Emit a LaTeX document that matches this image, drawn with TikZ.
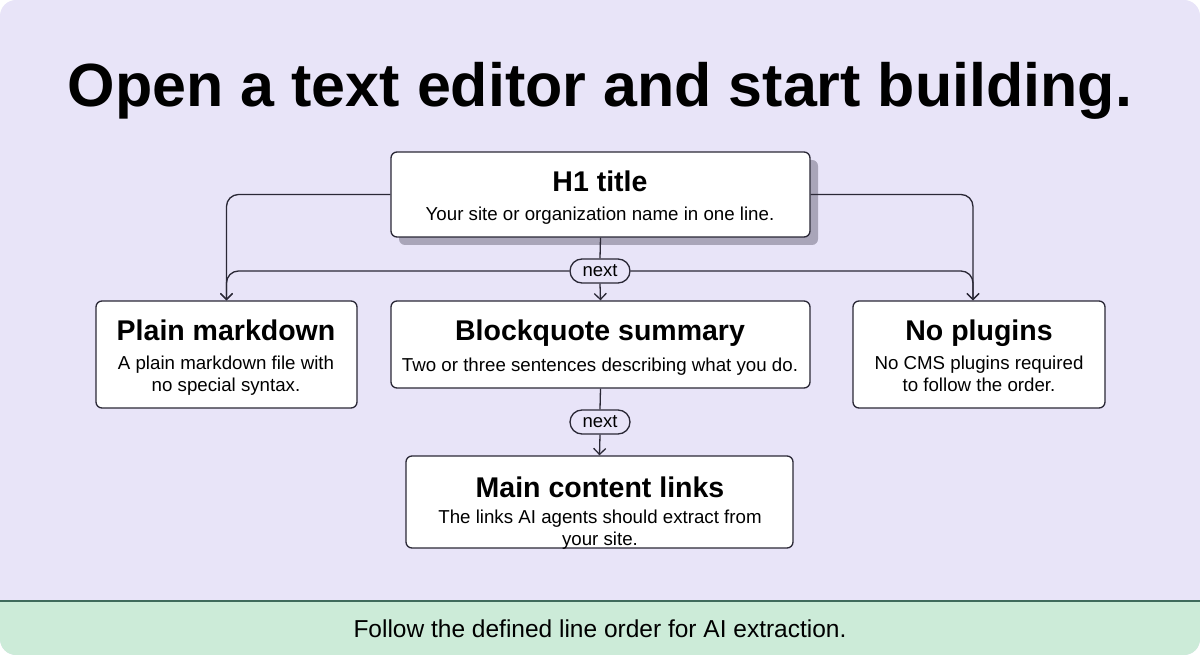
\documentclass[tikz,border=0pt]{standalone}
\usepackage{fontspec}
\setmainfont{Liberation Sans}
\usetikzlibrary{arrows.meta,shadows,positioning}

\definecolor{bgc}{HTML}{E8E4F8}
\definecolor{footc}{HTML}{CCEBD8}
\definecolor{footl}{HTML}{3F6A5C}
\definecolor{linec}{HTML}{2A2836}
\definecolor{shadc}{HTML}{A9A5B9}

\tikzset{
  box/.style={draw=linec, fill=white, rounded corners=6, line width=1.3,
    inner sep=0, minimum width=#1},
  pill/.style={draw=linec, fill=bgc, rounded corners=12, line width=1.3,
    minimum width=60, minimum height=24, inner sep=0,
    font=\fontsize{18.5}{18.5}\selectfont},
  head/.style={font=\fontsize{28.5}{28.5}\selectfont\bfseries, text=black, anchor=base, inner sep=0},
  desc/.style={font=\fontsize{18.7}{22}\selectfont, align=center, text=black, anchor=base, inner sep=0},
}

\begin{document}
\begin{tikzpicture}[x=1pt, y=-1pt, line width=1.3, draw=linec,
    >={Straight Barb[length=6pt, width=12pt]}]
    \useasboundingbox (0,0) rectangle (1200,655);
    \fill[bgc, rounded corners=16] (0,0) rectangle (1200,655);
    \fill[footc] (0,601) -- (1200,601) [rounded corners=16] -- (1200,655) -- (0,655) [sharp corners] -- cycle;
    \draw[footl, line width=2] (0,601) -- (1200,601);

    \node[anchor=base, inner sep=0] (title) at (600,107) {\fontsize{61}{61}\selectfont\bfseries Open a text editor and start building.};
    \node[anchor=base, inner sep=0] (foot) at (600,637) {\fontsize{24.5}{24.5}\selectfont Follow the defined line order for AI extraction.};

    % boxes
    \node[box=419, minimum height=85, drop shadow={shadow xshift=8pt, shadow yshift=-8pt, fill=shadc, opacity=1}] (h1) at (600.5,194.5) {};
    \node[box=261, minimum height=107] (plain) at (226.5,354.5) {};
    \node[box=419, minimum height=87] (quote) at (600.5,344.5) {};
    \node[box=252, minimum height=107] (noplug) at (979,354.5) {};
    \node[box=387, minimum height=92] (mainl) at (599.5,502) {};

    % texts (multi-line texts sit on their last baseline)
    \node[head] (h1t) at (600,192) {H1 title};
    \node[desc] (h1d) at (600,221) {Your site or organization name in one line.};
    \node[head] (plaint) at (226,340) {Plain markdown};
    \node[desc] (plaind) at (226,391) {A plain markdown file with\\no special syntax.};
    \node[head] (quotet) at (600,340) {Blockquote summary};
    \node[desc] (quoted) at (600,371) {Two or three sentences describing what you do.};
    \node[head] (noplugt) at (979,340) {No plugins};
    \node[desc] (noplugd) at (979,391) {No CMS plugins required\\to follow the order.};
    \node[head] (mainlt) at (600,497) {Main content links};
    \node[desc] (mainld) at (600,545) {The links AI agents should extract from\\your site.};

    \node[pill] (next1) at (600,271) {next};
    \node[pill] (next2) at (600,422) {next};
    \coordinate (npin) at ([xshift=-6]noplug.north);

    % connectors
    \draw[->, rounded corners=12] (h1.west) -| (plain.north);
    \draw[->, rounded corners=12] (h1.east) -| (npin);
    \draw[->, rounded corners=12] (next1.west) -| (plain.north);
    \draw[->, rounded corners=12] (next1.east) -| (npin);
    \draw (h1.south) -- (next1.north);
    \draw[->] (next1.south) -- (quote.north);
    \draw (quote.south) -- (next2.north);
    \draw[->] (next2.south) -- (mainl.north);
\end{tikzpicture}
\end{document}
